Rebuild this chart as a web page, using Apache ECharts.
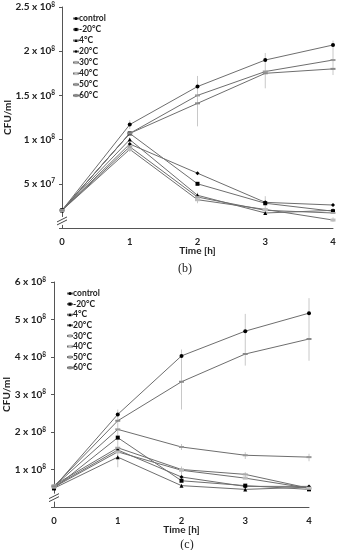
<!DOCTYPE html>
<html>
<head>
<meta charset="utf-8">
<script src="https://cdn.jsdelivr.net/npm/echarts@6/dist/echarts.min.js"></script>
<style>
html,body{margin:0;padding:0;background:#fff;}
#chart{width:338px;height:550px;}
</style>
</head>
<body>
<div id="chart"></div>
<script>
// ---------- data ----------
const times = [0, 1, 2, 3, 4];
const seriesNames = ['control', '-20°C', '4°C', '20°C', '30°C', '40°C', '50°C', '60°C'];

// panel (b) values, CFU/ml
const b_control = [2.0e7, 1.17e8, 1.60e8, 1.90e8, 2.07e8];
const b_m20     = [2.0e7, 1.07e8, 0.50e8, 0.28e8, 0.19e8];
const b_4       = [2.0e7, 1.00e8, 0.37e8, 0.17e8, 0.20e8];
const b_20      = [2.0e7, 0.95e8, 0.62e8, 0.29e8, 0.26e8];
const b_30      = [2.0e7, 0.92e8, 0.35e8, 0.20e8, 0.17e8];
const b_40      = [2.0e7, 0.89e8, 0.32e8, 0.21e8, 0.09e8];
const b_50      = [2.0e7, 1.07e8, 1.50e8, 1.77e8, 1.90e8];
const b_60      = [2.0e7, 1.07e8, 1.41e8, 1.75e8, 1.80e8];
// error bars (b): [time, low, high]
const b_err = [
  [1, 1.12e8, 1.22e8], [1, 0.86e8, 0.96e8],
  [2, 1.15e8, 1.72e8], [2, 0.28e8, 0.40e8],
  [3, 1.58e8, 1.98e8], [3, 0.22e8, 0.36e8],
  [4, 1.73e8, 2.12e8], [4, 0.07e8, 0.12e8]
];

// panel (c) values, CFU/ml
const c_control = [0.53e8, 2.47e8, 4.03e8, 4.69e8, 5.17e8];
const c_m20     = [0.50e8, 1.85e8, 0.70e8, 0.57e8, 0.47e8];
const c_4       = [0.50e8, 1.33e8, 0.57e8, 0.47e8, 0.53e8];
const c_20      = [0.55e8, 1.52e8, 0.80e8, 0.55e8, 0.55e8];
const c_30      = [0.58e8, 1.58e8, 1.00e8, 0.87e8, 0.50e8];
const c_40      = [0.53e8, 1.47e8, 0.98e8, 0.77e8, 0.50e8];
const c_50      = [0.55e8, 2.07e8, 1.60e8, 1.38e8, 1.33e8];
const c_60      = [0.55e8, 2.30e8, 3.34e8, 4.08e8, 4.48e8];
const c_err = [
  [0, 0.48e8, 0.62e8],
  [1, 1.06e8, 2.60e8],
  [2, 2.60e8, 4.20e8], [2, 0.85e8, 1.08e8], [2, 1.52e8, 1.68e8],
  [3, 3.77e8, 5.15e8], [3, 1.28e8, 1.46e8], [3, 0.80e8, 0.93e8],
  [4, 3.90e8, 5.57e8], [4, 1.22e8, 1.42e8]
];

const bTicks = [5e7, 1e8, 1.5e8, 2e8, 2.5e8];
const cTicks = [1e8, 2e8, 3e8, 4e8, 5e8, 6e8];

const bData = [b_control, b_m20, b_4, b_20, b_30, b_40, b_50, b_60];
const cData = [c_control, c_m20, c_4, c_20, c_30, c_40, c_50, c_60];

// ---------- styles ----------
const LINE = '#6e6e6e';
const symbols = [
  {symbol: 'circle', size: 4, color: '#000'},
  {symbol: 'rect', size: 4, color: '#000'},
  {symbol: 'triangle', size: 4, color: '#000'},
  {symbol: 'diamond', size: 4, color: '#000'},
  {symbol: 'rect', size: [5, 2], color: '#a8a8a8'},
  {symbol: 'rect', size: [5, 3], color: '#bdbdbd'},
  {symbol: 'rect', size: [5, 2], color: '#999'},
  {symbol: 'rect', size: [5, 2], color: '#8a8a8a'}
];
const FONT = 'Lato';

function fmtLabel(v) {
  if (v === 0) return '';
  let exp = 8, m = v / 1e8;
  if (v < 1e8) { exp = 7; m = v / 1e7; }
  m = Math.round(m * 10) / 10;
  return m + ' x 10{sup|' + exp + '}';
}
const rich = {sup: {fontSize: 6.5, fontWeight: 'bold', fontFamily: FONT, color: '#222', padding: [0, 0, 5, 0]}};

function makeSeries(dataArr, gi) {
  const out = [];
  dataArr.forEach((arr, i) => {
    const s = symbols[i];
    out.push({
      name: seriesNames[i], type: 'line', xAxisIndex: gi, yAxisIndex: gi,
      data: times.map((t, k) => [t, arr[k]]),
      symbol: s.symbol, symbolSize: s.size, showSymbol: true,
      lineStyle: {color: LINE, width: 1},
      itemStyle: {color: s.color},
      z: 3, animation: false
    });
  });
  return out;
}
function errSeries(err, gi) {
  return {
    type: 'custom', xAxisIndex: gi, yAxisIndex: gi, data: err, z: 1, animation: false,
    renderItem: function (params, api) {
      const p1 = api.coord([api.value(0), api.value(1)]);
      const p2 = api.coord([api.value(0), api.value(2)]);
      return {type: 'line', shape: {x1: p1[0], y1: p1[1], x2: p2[0], y2: p2[1]},
        style: {stroke: '#c8c8c8', lineWidth: 1}};
    }
  };
}

function xAxisCfg(gi) {
  return {
    type: 'value', gridIndex: gi, min: 0, max: 4, interval: 1,
    axisLine: {show: true, lineStyle: {color: '#555', width: 1}},
    axisTick: {show: false}, splitLine: {show: false},
    axisLabel: {fontSize: 9.5, fontWeight: 'bold', fontFamily: FONT, color: '#222', margin: 9},
    name: 'Time [h]', nameLocation: 'middle', nameGap: 18, nameMoveOverlap: false,
    nameTextStyle: {fontSize: 10, fontWeight: 'bold', fontFamily: FONT, color: '#222'}
  };
}
function yAxisCfg(gi, max, interval, gap, margin) {
  return {
    type: 'value', gridIndex: gi, min: 0, max: max, interval: interval,
    axisLine: {show: true, lineStyle: {color: '#555', width: 1}},
    axisTick: {show: true, length: 3, lineStyle: {color: '#555'}},
    splitLine: {show: false},
    axisLabel: {fontSize: 10, fontWeight: 'bold', fontFamily: FONT, color: '#222', margin: margin,
      formatter: fmtLabel, rich: rich},
    name: 'CFU/ml', nameLocation: 'middle', nameGap: gap, nameRotate: 90, nameMoveOverlap: false,
    nameTextStyle: {fontSize: 10, fontWeight: 'bold', fontFamily: FONT, color: '#222'}
  };
}
function legendCfg(gi, left, top, gap) {
  return {
    orient: 'vertical', left: left, top: top, itemWidth: 6, itemHeight: 4, itemGap: gap,
    data: seriesNames,
    textStyle: {fontSize: 8.5, fontWeight: 'bold', fontFamily: FONT, color: '#222', padding: [0, 0, 0, -5], lineHeight: 9},
    selectedMode: false
  };
}

const chart = echarts.init(document.getElementById('chart'), null, {renderer: 'canvas'});
const option = {
  animation: false,
  backgroundColor: '#fff',
  grid: [
    {left: 62, right: 5, top: 7, height: 221, containLabel: false, outerBoundsMode: 'none'},
    {left: 54, right: 29, top: 282, height: 225, containLabel: false, outerBoundsMode: 'none'}
  ],
  xAxis: [xAxisCfg(0), xAxisCfg(1)],
  yAxis: [yAxisCfg(0, 2.5e8, 5e7, 49, 7), yAxisCfg(1, 6e8, 1e8, 42, 8)],
  legend: [legendCfg(0, 67, 9, 2), legendCfg(1, 61, 284, 1.6)],
  title: [
    {text: '(b)', left: 180, top: 258, textAlign: 'center',
      textStyle: {fontSize: 12, fontWeight: 'normal', fontFamily: 'Liberation Serif', color: '#222'}},
    {text: '(c)', left: 182, top: 534, textAlign: 'center',
      textStyle: {fontSize: 12, fontWeight: 'normal', fontFamily: 'Liberation Serif', color: '#222'}}
  ],
  series: [].concat(errSeries(b_err, 0), makeSeries(bData, 0), errSeries(c_err, 1), makeSeries(cData, 1))
};
chart.setOption(option);

// axis break marks
function breakMark(gi, v) {
  const p = chart.convertToPixel({gridIndex: gi}, [0, v]);
  const x = p[0], y = p[1];
  return [
    {type: 'rect', shape: {x: x - 2, y: y - 4, width: 4, height: 8}, style: {fill: '#fff'}, z: 50},
    {type: 'line', shape: {x1: x - 5, y1: y + 1, x2: x + 5, y2: y - 4}, style: {stroke: '#444', lineWidth: 1}, z: 51},
    {type: 'line', shape: {x1: x - 5, y1: y + 4, x2: x + 5, y2: y - 1}, style: {stroke: '#444', lineWidth: 1}, z: 51}
  ];
}
chart.setOption({graphic: [].concat(breakMark(0, 0.08e8), breakMark(1, 0.25e8))});
</script>
</body>
</html>
